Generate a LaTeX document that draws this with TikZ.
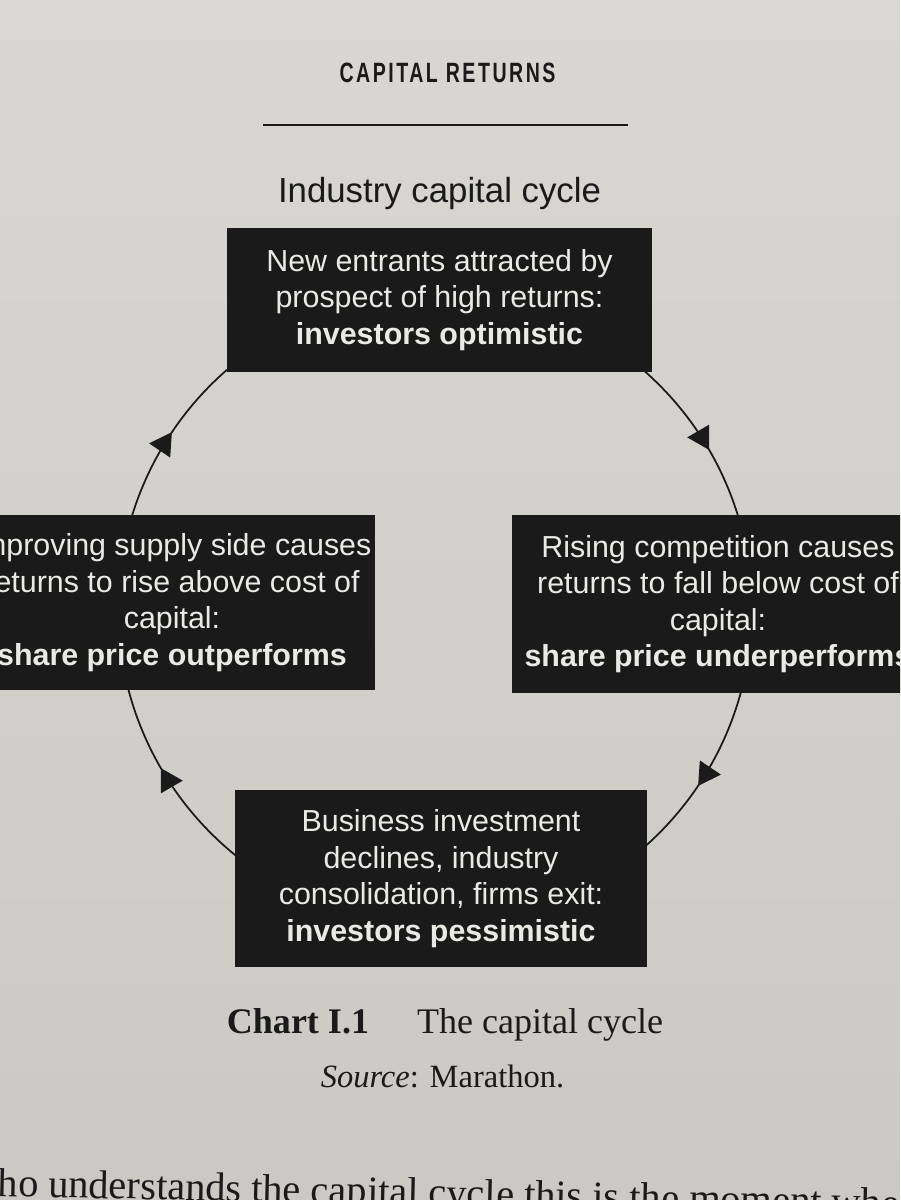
\documentclass[tikz,border=0pt]{standalone}
\usepackage{fontspec}
\setmainfont{Liberation Serif}
\setsansfont{Liberation Sans}
\newfontfamily\headfont[FakeStretch=0.7,LetterSpace=9]{Liberation Sans}
\usepackage{tikz}
\usetikzlibrary{arrows.meta,positioning,calc,decorations.markings}
\definecolor{PaperLight}{RGB}{217,215,209}
\definecolor{PaperDark}{RGB}{203,201,196}
\definecolor{Ink}{RGB}{27,26,26}
\definecolor{BoxText}{RGB}{233,233,229}

\begin{document}
\begin{tikzpicture}[
  text=Ink,
  stage/.style={fill=Ink, text=BoxText, align=center, inner sep=0pt,
    font=\sffamily\fontsize{17.3}{20.8}\selectfont},
  cyc/.style={draw=Ink, line width=1pt, postaction={decorate},
    decoration={markings,
      mark=at position 0.55 with {\arrow{Triangle[length=4.4mm,width=5mm]}}}},
  pagetext/.style={anchor=base, inner sep=0pt},
]
\useasboundingbox (0,0) rectangle (18,-24);
\clip (0,0) rectangle (18,-24);
\shade[top color=PaperLight, bottom color=PaperDark] (0,0) rectangle (18,-24);

% running head
\node[pagetext, font=\headfont\bfseries\fontsize{15.9}{19}\selectfont] (runhead) at (8.95,-1.66) {CAPITAL RETURNS};
\draw[Ink, line width=1.1pt] (5.26,-2.5) -- (12.56,-2.5);

% the cycle
\coordinate (hub) at (8.7,-12.18);
\def\rad{6.34}
\draw[cyc] ($(hub)+(51:\rad)$) arc[start angle=51, end angle=13, radius=\rad];
\draw[cyc] ($(hub)+(-13:\rad)$) arc[start angle=-13, end angle=-51, radius=\rad];
\draw[cyc] ($(hub)+(231:\rad)$) arc[start angle=231, end angle=193, radius=\rad];
\draw[cyc] ($(hub)+(167:\rad)$) arc[start angle=167, end angle=129, radius=\rad];

\node[stage, minimum width=8.5cm, minimum height=2.88cm] (optimism) at (8.79,-6.0)
  {New entrants attracted by\\prospect of high returns:\\\textbf{investors optimistic}};
\node[stage, minimum width=8.24cm, minimum height=3.56cm] (competition) at (14.36,-12.08)
  {Rising competition causes\\returns to fall below cost of\\capital:\\\textbf{share price underperforms}};
\node[stage, minimum width=8.24cm, minimum height=3.54cm] (exit) at (8.82,-17.57)
  {Business investment\\declines, industry\\consolidation, firms exit:\\\textbf{investors pessimistic}};
\node[stage, minimum width=8.12cm, minimum height=3.5cm] (recovery) at (3.44,-12.05)
  {Improving supply side causes\\returns to rise above cost of\\capital:\\\textbf{share price outperforms}};

\node[pagetext, font=\sffamily\fontsize{19.8}{24}\selectfont] (heading) at (8.79,-4.06) {Industry capital cycle};

% caption and body text
\node[pagetext, font=\fontsize{20.5}{24}\selectfont] (caption) at (8.9,-20.66)
  {\textbf{Chart I.1}\hspace{0.96cm}The capital cycle};
\node[pagetext, font=\fontsize{18.5}{22}\selectfont] (source) at (8.85,-21.74)
  {\textit{Source}: Marathon.};
\node[pagetext, anchor=base west, rotate=-1.3, font=\fontsize{23}{27}\selectfont] (body) at (-0.05,-23.92)
  {ho understands the capital cycle this is the moment whe};
\end{tikzpicture}
\end{document}
